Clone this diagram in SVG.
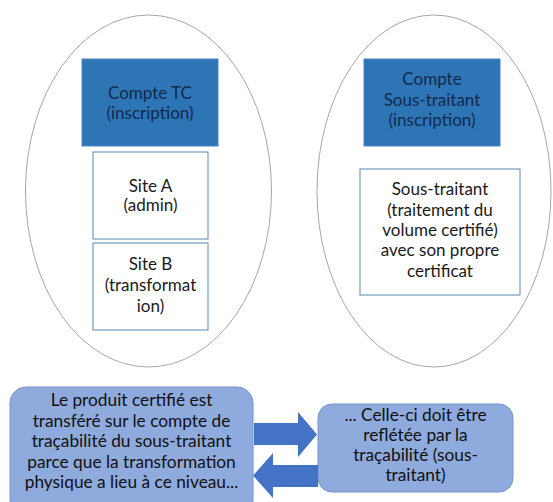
<svg xmlns="http://www.w3.org/2000/svg" width="553" height="502" viewBox="0 0 553 502">
<style>
text{font-family:Lato,"Open Sans","Liberation Sans",sans-serif;text-anchor:middle;}
.ell{fill:#fff;stroke:#a6a6a6;stroke-width:1}
.dark{fill:#2e75b6;stroke:#4a86c0;stroke-width:1}
.dark-t{fill:#0f2a4d;font-size:17px}
.white{fill:#fff;stroke:#5b86ad;stroke-width:1}
.white-t{fill:#1a1a1a;font-size:17px}
.note{fill:#8faadc;stroke:#7593c9;stroke-width:1}
.note-t{fill:#111;font-size:17.3px}
.arr{fill:#4472c4}
</style>
<rect width="553" height="502" fill="#fff"/>
<g id="ellipse-tc"><ellipse class="ell" cx="148.5" cy="191" rx="123" ry="176"/></g>
<g id="ellipse-st"><ellipse class="ell" cx="434" cy="191" rx="117" ry="176"/></g>
<g id="compte-tc">
<rect class="dark" x="82" y="59" width="136" height="87"/>
<text class="dark-t" x="150" y="99">Compte TC</text>
<text class="dark-t" x="150" y="119">(inscription)</text>
</g>
<g id="site-a">
<rect class="white" x="93" y="152" width="115" height="87"/>
<text class="white-t" x="150.5" y="192">Site A</text>
<text class="white-t" x="150.5" y="211">(admin)</text>
</g>
<g id="site-b">
<rect class="white" x="93" y="243" width="115" height="87"/>
<text class="white-t" x="150.5" y="270">Site B</text>
<text class="white-t" x="150.5" y="291">(transformat</text>
<text class="white-t" x="150.5" y="312">ion)</text>
</g>
<g id="compte-st">
<rect class="dark" x="364" y="59" width="136" height="87"/>
<text class="dark-t" x="432" y="85">Compte</text>
<text class="dark-t" x="432" y="106">Sous-traitant</text>
<text class="dark-t" x="432" y="126">(inscription)</text>
</g>
<g id="sous-traitant">
<rect class="white" x="360" y="169" width="160" height="126"/>
<text class="white-t" x="440" y="195">Sous-traitant</text>
<text class="white-t" x="440" y="216">(traitement du</text>
<text class="white-t" x="440" y="236">volume certifié)</text>
<text class="white-t" x="440" y="256">avec son propre</text>
<text class="white-t" x="440" y="277">certificat</text>
</g>
<g id="note-left">
<rect class="note" x="10" y="387" width="243" height="130" rx="16"/>
<text class="note-t" x="131.5" y="406">Le produit certifié est</text>
<text class="note-t" x="131.5" y="426.5">transféré sur le compte de</text>
<text class="note-t" x="131.5" y="447">traçabilité du sous-traitant</text>
<text class="note-t" x="131.5" y="467.5">parce que la transformation</text>
<text class="note-t" x="131.5" y="488">physique a lieu à ce niveau...</text>
</g>
<g id="note-right">
<rect class="note" x="318" y="404" width="195" height="88" rx="14"/>
<text class="note-t" x="415.5" y="420.5">... Celle-ci doit être</text>
<text class="note-t" x="415.5" y="440.5">reflétée par la</text>
<text class="note-t" x="415.5" y="460.5">traçabilité (sous-</text>
<text class="note-t" x="415.5" y="480.5">traitant)</text>
</g>
<g id="connectors">
<polygon class="arr" points="254,423 298,423 298,412 317,434.5 298,457 298,445 254,445"/>
<polygon class="arr" points="318,465 273,465 273,453 253,475.5 273,498 273,487 318,487"/>
</g>
</svg>
